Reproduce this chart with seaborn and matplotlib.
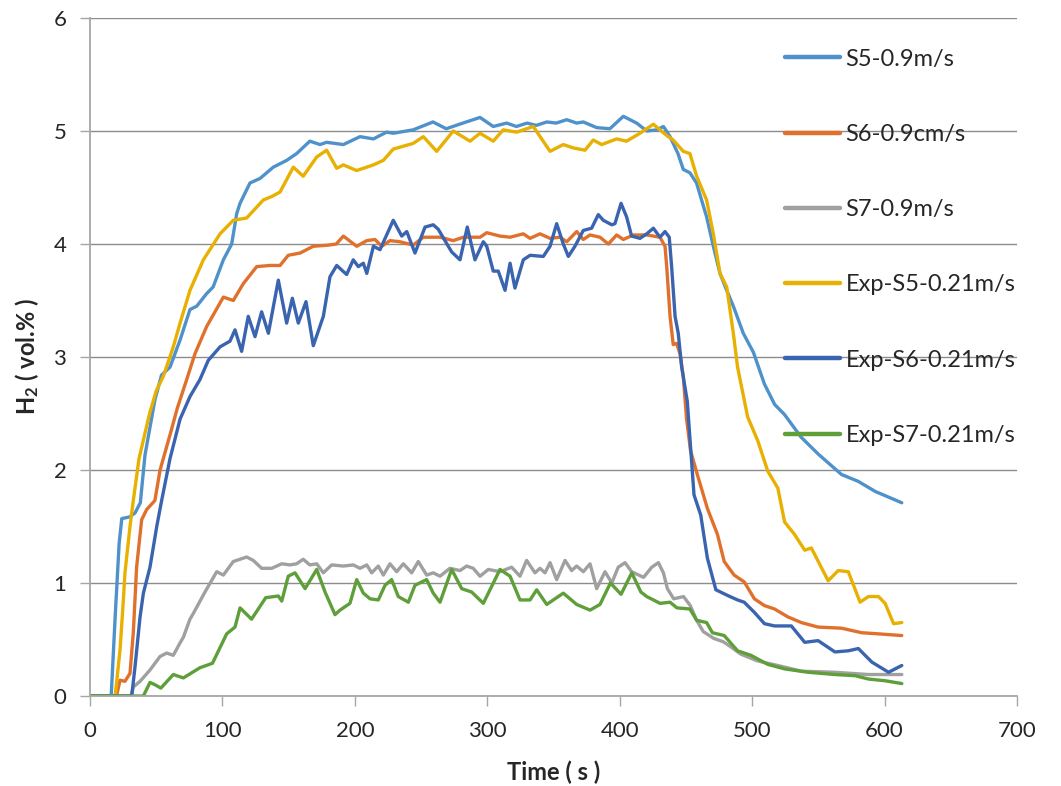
import matplotlib
matplotlib.use("Agg")
import pandas as pd
import numpy as np
import matplotlib.pyplot as plt
import seaborn as sns

# (time s, H2 vol.%)
s5 = [(0, 0), (16, 0), (19, 0.7), (22, 1.35), (24, 1.57), (30, 1.585), (34, 1.62), (38, 1.71),
      (41.5, 2.13), (49, 2.62), (54, 2.84), (60.4, 2.91), (68, 3.15), (75.5, 3.42), (80.6, 3.45),
      (88, 3.56), (93, 3.62), (100.7, 3.86), (107, 4.0), (110.8, 4.27), (113.3, 4.36), (120.8, 4.54),
      (128.4, 4.58), (138.4, 4.68), (148.5, 4.74), (156, 4.80), (166, 4.91), (173.7, 4.88),
      (178.7, 4.90), (191.3, 4.88), (203.9, 4.95), (214, 4.93), (224, 4.99), (229, 4.98),
      (244, 5.01), (259, 5.08), (269, 5.02), (279, 5.06), (294.5, 5.12), (304.5, 5.04),
      (314.6, 5.07), (322, 5.04), (330, 5.07), (337, 5.05), (345, 5.08), (352, 5.07), (360, 5.10),
      (367.5, 5.07), (372.5, 5.08), (382.6, 5.03), (392.6, 5.02), (402.7, 5.13), (412.8, 5.07),
      (420.4, 5.0), (428, 5.01), (433, 5.04), (438, 4.95), (444, 4.80), (448, 4.66), (453, 4.63),
      (458, 4.54), (465.6, 4.24), (470.7, 3.98), (475.7, 3.74), (480.8, 3.59), (485.8, 3.45),
      (493.3, 3.21), (501, 3.04), (509.3, 2.76), (517, 2.58), (524.5, 2.49), (537, 2.29),
      (550, 2.14), (567.5, 1.96), (580, 1.90), (593, 1.81), (613, 1.71)]

s6 = [(0, 0), (20, 0), (22.7, 0.14), (26.4, 0.13), (30.2, 0.2), (32.7, 0.56), (35.2, 1.14),
      (39, 1.56), (42.8, 1.65), (49, 1.73), (52.9, 2.0), (60.4, 2.31), (66, 2.55), (73, 2.80),
      (79.3, 3.03), (88.1, 3.27), (100.7, 3.53), (108.2, 3.50), (115.8, 3.65), (125.9, 3.80),
      (135.9, 3.81), (143.5, 3.81), (149.7, 3.90), (158.6, 3.92), (168.6, 3.98), (180, 3.99),
      (186, 4.0), (191.3, 4.07), (201.4, 3.98), (209, 4.03), (215.2, 4.04), (220.3, 3.98),
      (226.5, 4.03), (234, 4.02), (244, 3.99), (251.7, 4.06), (264.3, 4.06), (274.3, 4.03),
      (281.9, 4.06), (294.5, 4.06), (299.6, 4.10), (309.6, 4.07), (317.2, 4.06), (327.2, 4.09),
      (332.3, 4.05), (339.8, 4.09), (347.4, 4.05), (354.9, 4.06), (360, 4.02), (367.5, 4.11),
      (372.5, 4.04), (377.6, 4.08), (385.1, 4.06), (391.4, 4.0), (397.7, 4.08), (402.7, 4.04),
      (410.3, 4.08), (420.4, 4.08), (430.4, 4.06), (434.2, 3.98), (435.5, 3.80), (438, 3.36),
      (440.4, 3.11), (443, 3.12), (445.5, 3.03), (448, 2.83), (450.5, 2.45), (453.5, 2.17),
      (458.6, 1.96), (466.2, 1.66), (473.8, 1.43), (478.9, 1.19), (486.4, 1.07), (494, 1.01),
      (501.7, 0.86), (509.3, 0.80), (516.9, 0.77), (527, 0.70), (537.1, 0.65), (549.8, 0.61),
      (567.5, 0.60), (582.7, 0.56), (595.4, 0.55), (613, 0.535)]

s7 = [(0, 0), (31, 0), (32.7, 0.08), (37.8, 0.13), (45.3, 0.23), (52.9, 0.35), (57.9, 0.38),
      (62.9, 0.36), (68, 0.47), (70.5, 0.52), (75.5, 0.68), (78, 0.73), (86.8, 0.92), (95.7, 1.10),
      (100.7, 1.07), (108.2, 1.19), (118.3, 1.23), (123.3, 1.20), (129.6, 1.13), (137.2, 1.13),
      (144.8, 1.17), (151, 1.16), (156, 1.17), (161, 1.21), (166, 1.16), (171.2, 1.17),
      (176.2, 1.09), (182.5, 1.16), (191.3, 1.15), (198.8, 1.16), (203.9, 1.13), (209, 1.16),
      (212.7, 1.09), (217.7, 1.15), (221.5, 1.07), (226.5, 1.17), (231.6, 1.10), (236.6, 1.17),
      (242.9, 1.09), (247.9, 1.19), (254.2, 1.07), (259.2, 1.09), (264.3, 1.06), (271.8, 1.13),
      (279.4, 1.11), (284.4, 1.15), (289.4, 1.13), (294.5, 1.06), (300.8, 1.12), (309.6, 1.10),
      (318.4, 1.14), (324.7, 1.06), (329.7, 1.20), (336, 1.09), (339.8, 1.13), (343.6, 1.09),
      (347.4, 1.18), (352.4, 1.03), (358.7, 1.20), (363.7, 1.11), (367.5, 1.15), (372.5, 1.10),
      (377.6, 1.17), (382.6, 0.95), (388.9, 1.10), (394, 1.0), (398.9, 1.14), (404, 1.18),
      (409, 1.10), (418, 1.05), (424.2, 1.14), (429.2, 1.18), (433, 1.09), (436, 0.95),
      (440.8, 0.86), (448.2, 0.88), (453.3, 0.80), (458.1, 0.67), (463.1, 0.57), (471, 0.51),
      (478.2, 0.48), (483.3, 0.44), (491.5, 0.37), (504.2, 0.31), (519.4, 0.27), (537.1, 0.22),
      (562.5, 0.21), (587.8, 0.19), (613, 0.19)]

exp_s5 = [(0, 0), (19, 0), (22.7, 0.41), (25.2, 0.85), (26.4, 1.09), (30.2, 1.5), (32.7, 1.73),
          (37, 2.1), (45, 2.5), (50, 2.7), (55.4, 2.83), (62.9, 3.09), (68, 3.30), (75.5, 3.59),
          (85.6, 3.86), (98.2, 4.09), (108.2, 4.21), (118.3, 4.23), (130.9, 4.39), (137.2, 4.42),
          (143.5, 4.46), (153.5, 4.68), (161, 4.60), (171.2, 4.77), (178.7, 4.83), (186.3, 4.67),
          (191.3, 4.70), (201.4, 4.65), (214, 4.70), (221.5, 4.74), (229, 4.84), (244, 4.89),
          (251.7, 4.95), (261.8, 4.82), (274.3, 5.0), (287, 4.91), (294.5, 4.98), (304.5, 4.91),
          (312, 5.01), (322.2, 4.99), (334.7, 5.04), (347.4, 4.82), (357.4, 4.88), (365, 4.85),
          (373.8, 4.83), (380, 4.92), (386.4, 4.88), (397.7, 4.93), (405.2, 4.91), (415.3, 4.98),
          (425.4, 5.06), (430.4, 5.01), (435.5, 4.96), (440.4, 4.92), (448, 4.82), (453, 4.80),
          (458.1, 4.60), (465.6, 4.39), (470.7, 4.09), (475.7, 3.74), (480.8, 3.62), (485.8, 3.21),
          (489, 2.91), (496.6, 2.47), (504.2, 2.26), (511.8, 1.99), (519.4, 1.84), (524.5, 1.54),
          (532, 1.43), (539.7, 1.29), (544.7, 1.31), (557.4, 1.02), (565, 1.11), (572.6, 1.10),
          (581.5, 0.83), (587.8, 0.88), (595.4, 0.88), (600.4, 0.82), (606.8, 0.64), (613, 0.65)]

exp_s6 = [(0, 0), (31.5, 0), (34, 0.26), (37.8, 0.70), (40.3, 0.91), (45.3, 1.14), (50.4, 1.50),
          (54.1, 1.73), (60.4, 2.1), (68, 2.45), (75.5, 2.65), (83, 2.80), (89.3, 2.97), (98.2, 3.09),
          (105.7, 3.14), (109.5, 3.24), (114.5, 3.05), (119.5, 3.36), (124.6, 3.18), (129.6, 3.40),
          (134.7, 3.21), (142.2, 3.68), (148.5, 3.30), (152.8, 3.52), (157.3, 3.30), (163.1, 3.49),
          (168.6, 3.10), (176.2, 3.36), (181.2, 3.71), (186.3, 3.81), (193.8, 3.73), (198.8, 3.86),
          (202.6, 3.80), (206.4, 3.83), (209, 3.74), (214, 3.98), (219, 3.95), (229, 4.21),
          (235.4, 4.07), (239.2, 4.11), (245.4, 3.92), (253, 4.15), (259.2, 4.17), (263, 4.13),
          (273.1, 3.93), (279.4, 3.86), (284.9, 4.15), (290.7, 3.86), (297, 4.02), (299.6, 3.98),
          (304.5, 3.76), (308.3, 3.76), (313.4, 3.59), (317.2, 3.83), (320.9, 3.61), (327.2, 3.86),
          (332.3, 3.90), (342.3, 3.89), (347.4, 3.98), (352.4, 4.18), (357.4, 4.0), (361.2, 3.89),
          (366.2, 3.98), (372.5, 4.12), (378.8, 4.14), (383.8, 4.26), (387.6, 4.21), (394, 4.17),
          (396.4, 4.18), (401, 4.36), (405.2, 4.24), (409, 4.07), (415.3, 4.05), (420.4, 4.09),
          (425.4, 4.14), (430.4, 4.06), (434.2, 4.11), (437.4, 4.06), (439.2, 3.80), (441.8, 3.36),
          (444.2, 3.21), (446.8, 2.91), (451, 2.61), (456.1, 1.78), (461.2, 1.60), (466.2, 1.22),
          (472.6, 0.94), (481.4, 0.89), (489, 0.85), (494, 0.83), (501.7, 0.74), (509.3, 0.64),
          (516.9, 0.62), (529.6, 0.62), (539.7, 0.475), (549.8, 0.49), (562.5, 0.39), (572.6, 0.40),
          (580.2, 0.42), (590.4, 0.30), (603, 0.21), (613, 0.27)]

exp_s7 = [(0, 0), (40.3, 0), (45.3, 0.12), (49, 0.10), (53.5, 0.07), (62.9, 0.19), (70.5, 0.16),
          (83, 0.25), (92.5, 0.29), (103.2, 0.55), (109.5, 0.61), (113.3, 0.78), (122, 0.68),
          (132.7, 0.87), (142.2, 0.885), (144.8, 0.84), (149.7, 1.06), (154.8, 1.09), (162.4, 0.95),
          (171.2, 1.12), (177.5, 0.92), (185, 0.72), (188.8, 0.76), (196.3, 0.82), (201.4, 1.03),
          (206.4, 0.91), (211.5, 0.86), (217.7, 0.85), (222.8, 0.98), (227.8, 1.03), (232.8, 0.88),
          (240.4, 0.83), (245.4, 0.98), (254.2, 1.03), (259.2, 0.91), (264.3, 0.83), (273.1, 1.12),
          (280.7, 0.95), (288.2, 0.92), (297, 0.82), (309.6, 1.12), (317.2, 1.06), (324.7, 0.85),
          (332.3, 0.85), (337.3, 0.94), (344.9, 0.81), (351.1, 0.86), (357.4, 0.91), (367.5, 0.81),
          (377.6, 0.76), (385.1, 0.81), (393, 1.0), (401, 0.90), (409.1, 1.09), (416, 0.92),
          (420.4, 0.88), (430.5, 0.82), (438, 0.83), (443.2, 0.78), (453, 0.77), (458.1, 0.67),
          (465.6, 0.65), (470, 0.56), (478.9, 0.535), (489, 0.40), (499.1, 0.36), (511.8, 0.28),
          (524.5, 0.24), (542.2, 0.21), (562.5, 0.19), (577.7, 0.18), (587.9, 0.15), (600.4, 0.135),
          (613, 0.11)]

labels = ["S5-0.9m/s", "S6-0.9cm/s", "S7-0.9m/s",
          "Exp-S5-0.21m/s", "Exp-S6-0.21m/s", "Exp-S7-0.21m/s"]
series = [s5, s6, s7, exp_s5, exp_s6, exp_s7]
colors = ["#4F92CB", "#E0712D", "#A0A0A0", "#E8B000", "#3A64B0", "#5E9F3A"]

sns.set_style("white")
plt.rcParams['font.family'] = ['Lato', 'DejaVu Sans']
plt.rcParams['mathtext.fontset'] = 'custom'
plt.rcParams['mathtext.bf'] = 'Lato:bold'
plt.rcParams['mathtext.rm'] = 'Lato'

fig = plt.figure(figsize=(10.61, 7.86), dpi=100)
ax = fig.add_axes([90/1061, 1 - 696/786, 927/1061, 678/786])

for lab, pts, col in zip(labels, series, colors):
    df = pd.DataFrame(pts, columns=["Time", "H2"])
    sns.lineplot(data=df, x="Time", y="H2", ax=ax, color=col, lw=2.4,
                 label=lab, sort=False, estimator=None)

ax.set_xlim(0, 700)
ax.set_ylim(0, 6)
ax.set_xticks(range(0, 701, 100))
ax.set_yticks(range(0, 7))
ax.grid(axis="y", color="#8C8C8C", lw=1)
ax.grid(axis="x", visible=False)
ax.set_axisbelow(True)
for s in ["top", "right"]:
    ax.spines[s].set_visible(False)
for s in ["left", "bottom"]:
    ax.spines[s].set_color("#A6A6A6")
    ax.spines[s].set_linewidth(1.3)
ax.tick_params(axis="y", direction="out", length=7, width=1, color="#A6A6A6",
               labelsize=16, pad=10, left=True)
ax.tick_params(axis="x", direction="out", length=7, width=1, color="#A6A6A6",
               labelsize=16, pad=11, bottom=True)

ax.set_xlabel("Time ( s )", fontsize=17, fontweight="bold", labelpad=14)
ax.set_ylabel(r"$\mathbf{H_2}$ ( vol.% )", fontsize=17, fontweight="bold", labelpad=9)

leg = ax.legend(loc="upper left", bbox_to_anchor=(0.75, 0.955), frameon=False,
                fontsize=17, labelspacing=2.3, handlelength=2.3, handletextpad=0.25,
                borderpad=0, borderaxespad=0)
for line in leg.get_lines():
    line.set_linewidth(3.2)

fig.savefig("out.png", dpi=100)
